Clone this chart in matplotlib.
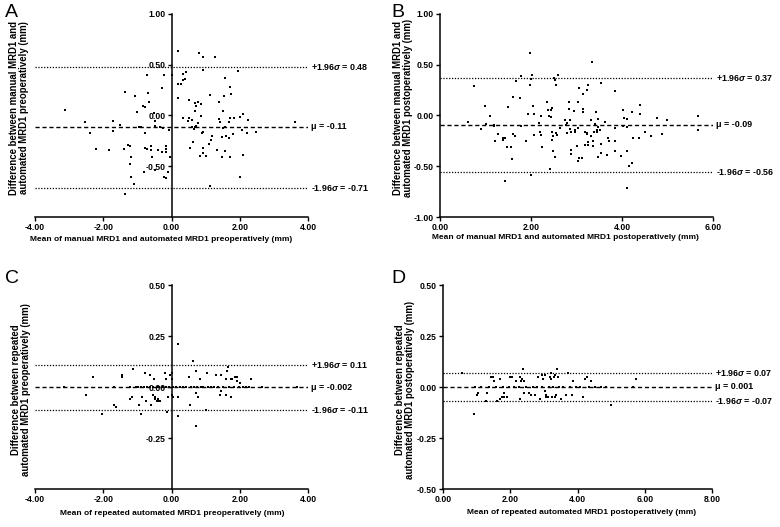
import numpy as np
import matplotlib
matplotlib.use('Agg')
import matplotlib.pyplot as plt

plt.rcParams['font.family'] = ['Liberation Sans', 'DejaVu Sans']
plt.rcParams['font.weight'] = 'bold'
plt.rcParams['mathtext.fontset'] = 'custom'
plt.rcParams['mathtext.it'] = 'Liberation Sans:italic:bold'

# Panel A: manual vs automated MRD1, preoperative
a_mean = [-3.12, -2.54, -2.40, -2.22, -1.83, -1.72, -1.72, -1.50, -1.40, -1.35, -1.27, -1.23,
          -1.18, -1.23, -1.19, -1.09, -1.35, -1.08, -1.01, -0.96, -0.90, -0.84, -0.78, -0.78,
          -0.72, -0.68, -0.67, -0.80, -0.78, -0.72, -0.60, -0.60, -0.56, -0.52, -0.48, -0.47,
          -0.47, -0.41, -0.33, -0.27, -0.27, -0.21, -0.16, -0.16, -0.16, -0.25, -0.08, -0.04,
          -0.10, -0.21, -0.16, 0.02, 0.20, 0.20, 0.29, 0.33, 0.35, 0.33,
          0.81, 0.93, 1.26, 0.92, 1.94, 0.43, 0.40, 0.19, 1.58, 1.72, 1.14, 1.54, 1.73, 0.50,
          1.40, 0.69, 0.77, 0.87, 0.73, 0.69, 1.51, 0.85, 2.10, 2.00, 1.84, 1.70, 0.50, 0.47,
          0.60, 1.38, 1.42, 1.69, 2.23, 0.79, 3.62, 0.61, 0.69, 0.73, 0.67, 1.51, 1.56, 0.93,
          0.89, 1.19, 1.48, 1.61, 1.68, 1.80, 2.07, 2.20, 2.49, 0.64, 1.17, 1.10, 0.54, 0.93,
          1.34, 1.56, 0.92, 0.84, 1.00, 1.48, 1.71, 2.10, 2.00, 1.13]
a_diff = [0.056, -0.062, -0.176, -0.327, -0.343, -0.059, -0.150, -0.092, -0.330, 0.235, -0.294, -0.297,
          -0.412, -0.480, -0.605, -0.676, -0.775, 0.193, 0.033, -0.111, -0.111, 0.095, 0.085, -0.173,
          0.395, 0.219, 0.127, -0.556, -0.324, -0.333, -0.304, -0.343, -0.408, 0.020, -0.059, -0.108,
          -0.539, -0.343, -0.111, 0.265, -0.359, 0.399, -0.304, -0.330, -0.359, -0.124, -0.141, -0.408,
          -0.559, -0.608, -0.611, 0.399, 0.631, 0.173, 0.304, 0.408, 0.350, -0.029,
          0.611, 0.572, 0.572, 0.448, 0.438, 0.431, 0.356, 0.310, 0.369, 0.275, 0.199, 0.193, 0.206, 0.154,
          0.127, 0.124, 0.127, 0.111, 0.088, 0.042, 0.042, -0.010, 0.013, -0.013, -0.029, -0.026, -0.029, -0.056,
          -0.049, -0.039, -0.065, -0.062, -0.049, -0.075, -0.062, -0.111, -0.114, -0.105, -0.131, -0.121, -0.111, -0.160,
          -0.173, -0.199, -0.209, -0.203, -0.219, -0.186, -0.147, -0.176, -0.163, -0.265, -0.242, -0.278, -0.317, -0.324,
          -0.343, -0.346, -0.366, -0.402, -0.399, -0.412, -0.408, -0.389, -0.601, -0.696]

# Panel B: manual vs automated MRD1, postoperative
b_mean = [0.62, 0.74, 0.90, 0.99, 1.02, 1.09, 1.18, 1.18, 1.21, 1.27, 1.38, 1.39, 1.42, 1.43, 1.47,
          1.56, 1.49, 1.59, 1.61, 1.61, 1.65, 1.67, 1.76, 1.79, 1.78, 1.90, 1.93, 1.97, 1.98, 1.99,
          2.02, 2.01, 2.05, 2.06, 2.07, 2.18, 2.19, 2.22, 2.25, 2.22, 2.36, 2.38, 2.40, 2.41, 2.43,
          2.47, 2.44, 2.46, 2.46, 2.49, 2.49, 2.50, 2.53, 2.55, 2.55, 2.58, 2.53, 2.59, 2.63, 2.75,
          2.80, 2.85, 2.78, 2.80, 2.84, 2.84, 2.85, 2.87, 2.88, 2.88, 2.96, 2.96, 2.94, 3.02, 3.03,
          3.06, 3.04, 3.06, 3.35, 3.15, 3.22, 3.26, 3.53, 3.85, 3.15, 3.15, 3.43, 3.32, 3.40, 3.47,
          3.63, 3.48, 3.46, 3.19, 3.22, 3.24, 3.32, 3.38, 3.44, 3.51, 3.18, 3.26, 3.37, 3.25, 3.37,
          3.54, 3.70, 3.72, 3.12, 3.04, 3.48, 3.54, 3.68, 3.85, 3.85, 3.97, 4.03, 4.04, 4.10, 4.12,
          3.85, 4.02, 4.23, 4.39, 4.39, 4.12, 4.16, 4.23, 4.25, 4.37, 4.12, 4.51, 4.63, 4.78, 4.89,
          5.00, 5.66, 5.66]
b_diff = [-0.06, 0.29, -0.13, 0.09, -0.08, -0.01, -0.09, -0.10, -0.25, -0.18, -0.24, -0.22, -0.22, -0.64, -0.31,
          -0.31, 0.08, -0.43, 0.18, -0.18, -0.20, 0.34, 0.17, 0.39, -0.10, -0.25, 0.01, 0.61, 0.30, 0.36,
          0.40, -0.59, 0.09, 0.01, -0.19, -0.07, -0.16, -0.19, -0.31, -0.01, 0.13, 0.05, -0.01, -0.53, 0.05,
          0.07, -0.02, -0.16, -0.24, -0.20, -0.35, 0.37, 0.35, 0.30, -0.17, -0.19, -0.41, 0.40, -0.12, -0.05,
          -0.07, -0.05, -0.09, -0.17, 0.13, 0.06, -0.13, -0.16, -0.34, -0.38, -0.14, -0.16, 0.04, -0.30, 0.13,
          0.27, -0.12, -0.42, 0.53, 0.21, 0.25, 0.30, 0.32, 0.24, 0.06, 0.03, 0.03, -0.05, -0.08, -0.04,
          -0.06, -0.11, -0.14, -0.16, -0.17, -0.18, -0.20, -0.16, -0.16, -0.14, -0.29, -0.26, -0.25, -0.29, -0.30,
          -0.28, -0.22, -0.25, -0.42, -0.45, -0.41, -0.37, -0.39, -0.25, -0.35, -0.40, 0.05, -0.03, -0.04, -0.11,
          -0.12, -0.10, 0.03, 0.10, 0.01, -0.35, -0.50, -0.47, -0.22, -0.22, -0.71, -0.16, -0.20, -0.03, -0.18,
          -0.05, -0.01, -0.14]

# Panel C: repeated automated MRD1, preoperative
c_mean = [-3.14, -2.50, -2.30, -2.05, -1.68, -1.68, -1.64, -1.44, -1.44, -1.23, -1.17, -1.12, -0.96,
          -0.90, -0.86, -0.78, -0.74, -0.62, -0.60, -0.51, -0.53, -0.49, -0.47, -0.43, -0.39, -0.41,
          -0.33, -0.20, -0.16, -0.10, -0.14, -0.04, 0.02, 0.02, 0.02, 0.04, 0.18, 0.20,
          0.20, 0.53, 0.51, 0.64, 0.72, 0.83, 0.72, 0.78, 1.00, 0.72, 1.03, 1.31, 1.46, 1.42, 1.46,
          1.60, 1.60, 1.62, 1.66, 1.74, 1.76, 1.74, 1.87, 1.93, 1.91, 2.01, 2.32,
          -1.21, -1.05, -0.97, -0.88, -0.80, -0.71, -0.63, -0.55, -0.44, -0.36, -0.26, -0.17, -0.06,
          0.05, 0.13, 0.24, 0.33, 0.41, 0.57, 0.66, 0.74, 0.85, 0.93, 1.07, 1.15, 1.24, 1.36, 1.52,
          1.69, 1.82, 1.98, 2.08, 2.17, 2.26, 2.64, 3.68]
c_diff = [0.00, -0.04, 0.05, -0.13, 0.00, -0.09, -0.10, 0.06, 0.05, -0.06, -0.05, 0.09, -0.09,
          -0.13, -0.05, 0.07, -0.07, 0.06, -0.09, 0.04, -0.04, -0.05, -0.06, -0.07, -0.06, -0.07,
          -0.07, 0.07, 0.04, -0.05, -0.12, 0.06, 0.07, 0.04, -0.04, -0.05, -0.14, 0.21,
          -0.05, -0.09, 0.05, 0.13, 0.08, 0.04, -0.03, -0.05, -0.11, -0.19, 0.07, 0.06, 0.06, -0.04, -0.02,
          -0.04, 0.04, 0.08, 0.10, 0.04, 0.04, -0.05, 0.05, 0.05, 0.03, 0.02, 0.04,
          0.00, 0.00, 0.00, 0.00, 0.00, 0.00, 0.00, 0.00, 0.00, 0.00, 0.00, 0.00, 0.00,
          0.00, 0.00, 0.00, 0.00, 0.00, 0.00, 0.00, 0.00, 0.00, 0.00, 0.00, 0.00, 0.00, 0.00, 0.00,
          0.00, 0.00, 0.00, 0.00, 0.00, 0.00, 0.00, 0.00]

# Panel D: repeated automated MRD1, postoperative
d_mean = [0.57, 0.92, 1.00, 1.04, 1.32, 1.28, 1.44, 1.50, 1.52, 1.60, 1.70, 1.74, 1.80, 1.82, 1.90,
          1.68, 2.00, 2.04, 2.16, 2.30, 2.36, 2.32, 2.40, 2.38, 2.30, 2.40, 2.55, 2.61, 2.73, 2.83,
          2.93, 2.97, 3.03, 2.89, 3.03, 3.07, 3.07, 3.11, 3.19, 3.21, 3.21, 3.25, 3.33, 3.37, 3.31,
          3.33, 3.39, 3.43, 3.50, 3.66, 3.82, 3.72, 3.86, 4.16, 4.22, 4.29, 4.41, 4.99, 5.75,
          0.95, 1.12, 1.36, 1.58, 1.77, 1.95, 2.12, 2.27, 2.46, 2.67, 2.78, 2.95, 3.14, 3.28, 3.46,
          3.58, 3.77, 3.94, 4.08, 4.33, 4.52, 4.70, 4.83, 5.66]
d_diff = [0.07, -0.13, -0.04, -0.03, -0.03, -0.07, 0.05, 0.05, 0.03, -0.07, -0.06, -0.05, -0.03, -0.05, -0.05,
          0.04, 0.05, 0.05, 0.03, 0.05, 0.04, 0.03, 0.03, 0.09, -0.06, -0.03, -0.03, -0.04, -0.04, 0.05,
          0.06, 0.04, 0.06, -0.06, -0.02, -0.04, -0.05, -0.05, 0.05, 0.07, 0.04, -0.05, -0.05, -0.04, 0.05,
          0.06, 0.09, 0.05, -0.06, -0.04, -0.04, 0.07, 0.03, -0.05, 0.04, 0.05, 0.03, -0.09, 0.04,
          0.00, 0.00, 0.00, 0.00, 0.00, 0.00, 0.00, 0.00, 0.00, 0.00, 0.00, 0.00, 0.00, 0.00, 0.00,
          0.00, 0.00, 0.00, 0.00, 0.00, 0.00, 0.00, 0.00, 0.00]

# mean and limits of agreement: (mu, upper, lower, labels)
limits = {
    'A': (-0.11, 0.48, -0.71, ['+1.96$\\sigma$ = 0.48', '\u03bc = -0.11', '-1.96$\\sigma$ = -0.71']),
    'B': (-0.09, 0.37, -0.56, ['+1.96$\\sigma$ = 0.37', '\u03bc = -0.09', '-1.96$\\sigma$ = -0.56']),
    'C': (-0.002, 0.11, -0.11, ['+1.96$\\sigma$ = 0.11', '\u03bc = -0.002', '-1.96$\\sigma$ = -0.11']),
    'D': (0.001, 0.07, -0.07, ['+1.96$\\sigma$ = 0.07', '\u03bc = 0.001', '-1.96$\\sigma$ = -0.07']),
}

xlabels = {
    'A': 'Mean of manual MRD1 and automated MRD1 preoperatively (mm)',
    'B': 'Mean of manual MRD1 and automated MRD1 postoperatively (mm)',
    'C': 'Mean of repeated automated MRD1 preoperatively (mm)',
    'D': 'Mean of repeated automated MRD1 postoperatively (mm)',
}
ylabels = {
    'A': 'Difference between manual MRD1 and\nautomated MRD1 preoperatively (mm)',
    'B': 'Difference between manual MRD1 and\nautomated MRD1 postoperatively (mm)',
    'C': 'Difference between repeated\nautomated MRD1 preoperatively (mm)',
    'D': 'Difference between repeated\nautomated MRD1 postoperatively (mm)',
}

fig = plt.figure(figsize=(7.8, 5.27), dpi=100)

panels = {
    'A': dict(rect=[0.0449, 0.588, 0.350, 0.386], x=a_mean, y=a_diff, xlim=(-4, 4), xt=[-4, -2, 0, 2, 4],
              ylim=(-1, 1), yt=[-0.5, 0, 0.5, 1.0], zero=True, lx=0.006, ly=0.993,
              ylab=(0.025, 0.795), xlab=(0.207, 0.545)),
    'B': dict(rect=[0.5641, 0.588, 0.350, 0.386], x=b_mean, y=b_diff, xlim=(0, 6), xt=[0, 2, 4, 6],
              ylim=(-1, 1), yt=[-1.0, -0.5, 0, 0.5, 1.0], zero=False, lx=0.502, ly=0.993,
              ylab=(0.517, 0.795), xlab=(0.725, 0.550)),
    'C': dict(rect=[0.0449, 0.072, 0.350, 0.387], x=c_mean, y=c_diff, xlim=(-4, 4), xt=[-4, -2, 0, 2, 4],
              ylim=(-0.5, 0.5), yt=[-0.25, 0, 0.25, 0.5], zero=True, lx=0.006, ly=0.488,
              ylab=(0.027, 0.26), xlab=(0.221, 0.025)),
    'D': dict(rect=[0.568, 0.072, 0.345, 0.387], x=d_mean, y=d_diff, xlim=(0, 8), xt=[0, 2, 4, 6, 8],
              ylim=(-0.5, 0.5), yt=[-0.5, -0.25, 0, 0.25, 0.5], zero=False, lx=0.502, ly=0.488,
              ylab=(0.519, 0.26), xlab=(0.745, 0.027)),
}

for key, p in panels.items():
    ax = fig.add_axes(p['rect'])
    ax.set_xlim(p['xlim'])
    ax.set_ylim(p['ylim'])
    ax.spines['top'].set_visible(False)
    ax.spines['right'].set_visible(False)
    for s in ['left', 'bottom']:
        ax.spines[s].set_linewidth(1.1)
    if p['zero']:
        ax.spines['left'].set_position(('data', 0))
    ax.set_xticks(p['xt'])
    ax.set_xticklabels(['%.2f' % v for v in p['xt']])
    ax.set_yticks(p['yt'])
    ax.set_yticklabels(['%.2f' % v for v in p['yt']])
    ax.tick_params(axis='both', labelsize=6.2, width=1.0, length=3, pad=1.5)

    mu, up, lo, labs = limits[key]
    ax.axhline(up, color='black', lw=0.9, ls=(0, (1, 1.3)), zorder=1)
    ax.axhline(mu, color='black', lw=1.0, ls=(0, (3, 2)), zorder=1)
    ax.axhline(lo, color='black', lw=0.9, ls=(0, (1, 1.3)), zorder=1)
    for yv, lab in zip([up, mu, lo], labs):
        ax.text(1.012, yv, lab, transform=ax.get_yaxis_transform(), fontsize=6.4,
                fontweight='bold', va='center', ha='left')

    ax.scatter(p['x'], p['y'], s=4, color='black', marker='s', linewidths=0, zorder=3)

    fig.text(p['lx'], p['ly'], key, fontsize=14, fontweight='normal', va='top', ha='left')
    fig.text(p['ylab'][0], p['ylab'][1], ylabels[key], rotation=90, fontsize=6.9,
             fontweight='bold', ha='center', va='center', linespacing=1.0)
    fig.text(p['xlab'][0], p['xlab'][1], xlabels[key], fontsize=6.0,
             fontweight='bold', ha='center', va='center')

fig.savefig('out.png', dpi=100)
